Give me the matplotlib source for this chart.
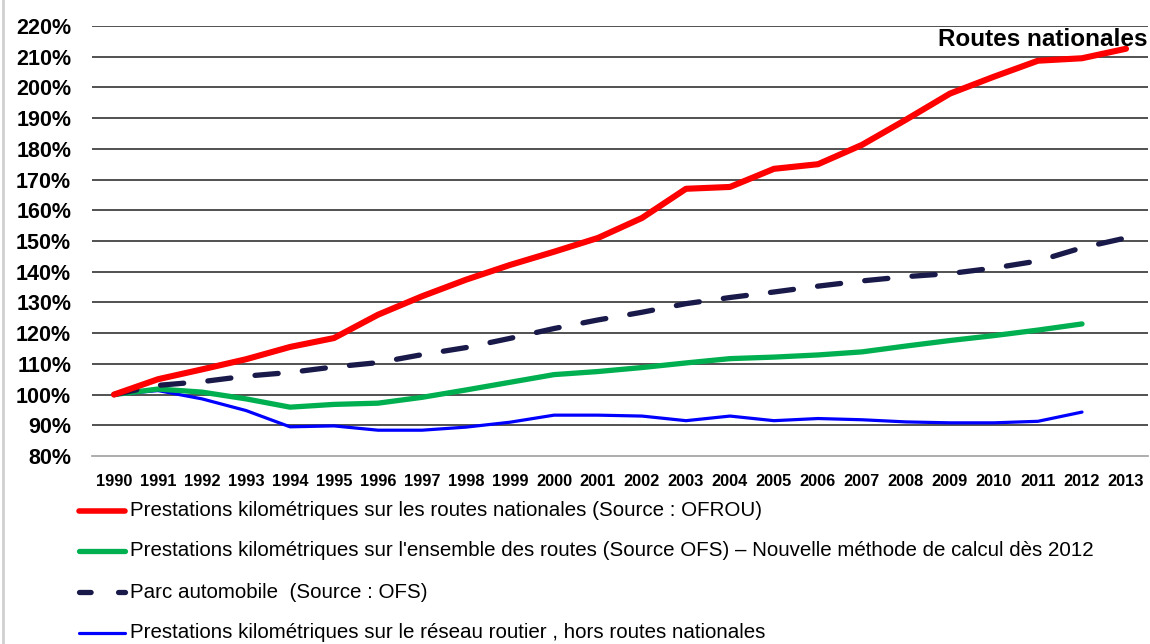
import matplotlib

matplotlib.use("Agg")
import matplotlib.pyplot as plt
from matplotlib.lines import Line2D

plt.rcParams["font.family"] = ["Liberation Sans", "DejaVu Sans"]

years = list(range(1990, 2014))
year_labels = [str(y) for y in years]

# index 1990 = 100 %
routes_nationales = [100, 105, 108.2, 111.5, 115.5, 118.4, 126, 132, 137.4, 142.2,
                     146.5, 151, 157.5, 167, 167.6, 173.5, 175, 181.3, 189.5, 198,
                     203.5, 208.7, 209.5, 212.6]
ensemble_routes = [100, 101.8, 100.8, 98.6, 95.9, 96.8, 97.2, 99.1, 101.5, 104,
                   106.5, 107.5, 108.8, 110.3, 111.7, 112.2, 112.9, 113.9, 115.8,
                   117.6, 119.2, 121, 123]
parc_auto = [100, 103, 104.2, 106, 107.2, 109, 110.4, 113, 115.3, 118.3, 121.5,
             124.3, 126.8, 129.6, 131.6, 133.4, 135.3, 137, 138.4, 139.4, 141.2,
             143.5, 147.8, 151]
hors_routes_nat = [100, 101.3, 98.6, 94.8, 89.5, 89.8, 88.4, 88.4, 89.4, 91,
                   93.3, 93.3, 93, 91.5, 93, 91.5, 92.2, 91.8, 91.1, 90.8, 90.8,
                   91.3, 94.3]

yticks = list(range(80, 230, 10))

legend_labels = [
    "Prestations kilométriques sur les routes nationales (Source : OFROU)",
    "Prestations kilométriques sur l'ensemble des routes (Source OFS) – Nouvelle méthode de calcul dès 2012",
    "Parc automobile  (Source : OFS)",
    "Prestations kilométriques sur le réseau routier , hors routes nationales",
]

RED = "#ff0000"
GREEN = "#00b050"
NAVY = "#1a1a4a"
BLUE = "#0000ff"

W, H = 1150, 644
fig = plt.figure(figsize=(W / 100, H / 100), dpi=100)
ax = fig.add_axes([92 / W, 1 - 456 / H, (1148 - 92) / W, (456 - 26) / H])

x = list(range(len(years)))
ax.plot(x[:len(hors_routes_nat)], hors_routes_nat, color=BLUE, lw=2.3,
        solid_capstyle="round", zorder=3)
ax.plot(x[:len(ensemble_routes)], ensemble_routes, color=GREEN, lw=3.8,
        solid_capstyle="round", zorder=4)
ax.plot(x, parc_auto, color=NAVY, lw=3.8, linestyle=(0, (4.4, 4.6)),
        dash_capstyle="round", zorder=5)
ax.plot(x, routes_nationales, color=RED, lw=4.4, solid_capstyle="round", zorder=6)

ax.set_xlim(-0.5, len(years) - 0.5)
ax.set_ylim(80, 220)
ax.set_yticks(yticks)
ax.set_yticklabels([f"{v}%" for v in yticks], fontsize=15.5, fontweight="bold")
ax.set_xticks(x)
ax.set_xticklabels(year_labels, fontsize=11.8, fontweight="bold")
ax.tick_params(axis="both", length=0)
ax.tick_params(axis="y", pad=15)
ax.tick_params(axis="x", pad=13)

for v in yticks[1:]:
    ax.axhline(v, color="#222222", lw=1.1, zorder=1)
for s in ["top", "right", "left"]:
    ax.spines[s].set_visible(False)
ax.spines["bottom"].set_color("#a0a0a0")
ax.spines["bottom"].set_linewidth(1.2)

fig.text(1147 / W, 1 - 40 / H, "Routes nationales", ha="right", va="center",
         fontsize=17.5, fontweight="bold")

# legend drawn by hand below the axis
rows_y = [511, 551, 592, 633]
styles = [
    dict(color=RED, lw=4.0, solid_capstyle="round"),
    dict(color=GREEN, lw=3.8, solid_capstyle="round"),
    dict(color=NAVY, lw=3.8, linestyle=(0, (2.2, 5.2)), dash_capstyle="round"),
    dict(color=BLUE, lw=2.3, solid_capstyle="round"),
]
for yy, lab, st in zip(rows_y, legend_labels, styles):
    fy = 1 - yy / H
    fig.add_artist(Line2D([79 / W, 125 / W], [fy, fy], transform=fig.transFigure, **st))
    fig.text(130 / W, fy, lab, ha="left", va="center", fontsize=14.8)

# thin gray frame line on the left edge
fig.add_artist(Line2D([3 / W, 3 / W], [0, 1], transform=fig.transFigure,
                      color="#d0d0d0", lw=2))

fig.savefig("out.png", dpi=100, facecolor="white")
